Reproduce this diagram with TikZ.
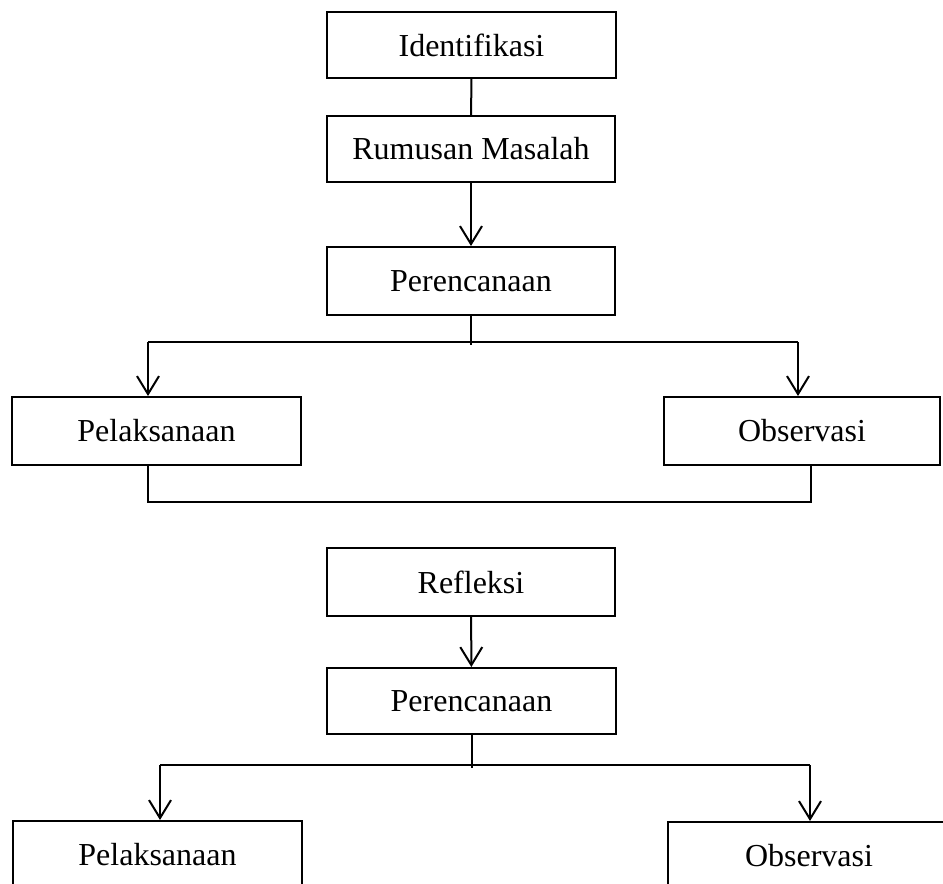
\documentclass[tikz,border=0pt]{standalone}
\usepackage{fontspec}
\setmainfont{Liberation Serif}
\usetikzlibrary{positioning,arrows.meta}

\begin{document}
\begin{tikzpicture}[
      x=0.5pt,y=-0.5pt,
      >={Straight Barb[length=9pt,width=11pt]},
      stage/.style={draw=black,line width=1pt,fill=white,
        minimum height=33pt,inner sep=0pt,
        font=\fontsize{16}{19}\selectfont},
      flow/.style={draw=black,line width=1pt,->},
      link/.style={draw=black,line width=1pt}
    ]
    \useasboundingbox (0,0) rectangle (943,884);
    \clip (0,0) rectangle (943,884);
    % first cycle
    \node[stage,minimum width=144.5pt] (I) at (471.5,45) {Identifikasi};
    \node[stage,minimum width=144pt] (R) at (471,149) {Rumusan Masalah};
    \node[stage,minimum width=144pt,minimum height=34pt] (P1) at (471,281) {Perencanaan};
    \node[stage,minimum width=144.5pt,minimum height=34pt] (L1) at (156.5,431) {Pelaksanaan};
    \node[stage,minimum width=138pt,minimum height=34pt] (O1) at (802,431) {Observasi};
    \coordinate (s1l) at (148,342);
    \coordinate (s1r) at (798,342);
    \coordinate (b1l) at (148,502);
    \coordinate (b1r) at (811,502);
    \draw[link] (I) -- (R);
    \draw[flow] (R) -- (P1);
    \draw[link] (P1.south) -- ([yshift=-1.5pt]P1.south |- s1l);
    \draw[link] (s1l) -- (s1r);
    \draw[flow] (s1l) -- (s1l |- L1.north);
    \draw[flow] (s1r) -- (s1r |- O1.north);
    \draw[link] (b1l |- L1.south) -- (b1l) -- (b1r) -- (b1r |- O1.south);
    % second cycle
    \node[stage,minimum width=144pt,minimum height=34pt] (F) at (471,582) {Refleksi};
    \node[stage,minimum width=144.5pt] (P2) at (471.5,701) {Perencanaan};
    \node[stage,minimum width=144.5pt,minimum height=34pt] (L2) at (157.5,855) {Pelaksanaan};
    \node[stage,minimum width=141pt,minimum height=34pt] (O2) at (809,856) {Observasi};
    \coordinate (s2l) at (160,765);
    \coordinate (s2r) at (810,765);
    \draw[flow] (F) -- (P2);
    \draw[link] (P2.south) -- ([yshift=-1.5pt]P2.south |- s2l);
    \draw[link] (s2l) -- (s2r);
    \draw[flow] (s2l) -- (s2l |- L2.north);
    \draw[flow] (s2r) -- (s2r |- O2.north);
  \end{tikzpicture}
\end{document}
